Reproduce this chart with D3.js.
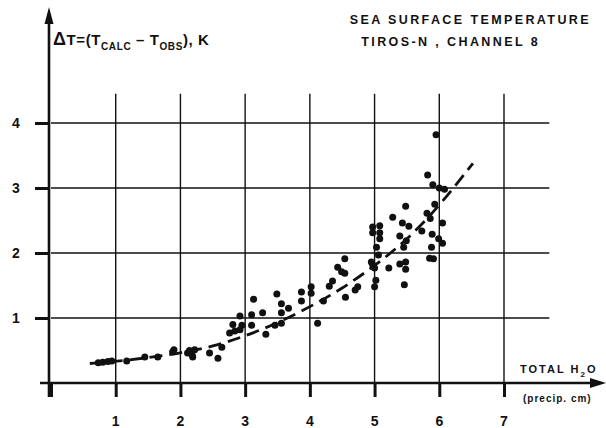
<!DOCTYPE html>
<html>
<head>
<meta charset="utf-8">
<script src="https://cdn.jsdelivr.net/npm/d3@7"></script>
<style>
  html, body { margin: 0; padding: 0; background: #fff; }
  svg { display: block; }
  text { font-family: "Liberation Sans", Arial, sans-serif; font-weight: bold; fill: #111; }
</style>
</head>
<body>
<script>
// ---- data ----
const xTicks = [1, 2, 3, 4, 5, 6, 7];
const yTicks = [1, 2, 3, 4];
const waterVapor = [
  0.73, 0.80, 0.88, 0.94, 1.17, 1.45, 1.65, 1.88, 1.90, 2.11, 2.18, 2.22, 2.19, 2.14, 2.45, 2.58, 2.64,
  2.76, 2.84, 2.92, 2.81, 2.95, 2.92, 3.10, 3.10, 3.13, 3.27, 3.32, 3.49, 3.46, 3.56, 3.56, 3.56, 3.67,
  3.87, 3.87, 4.02, 4.02, 4.12, 4.21, 4.30, 4.35, 4.43, 4.49, 4.54, 4.55, 4.54, 4.70, 4.74,
  4.97, 4.97, 5.08, 5.08, 5.08, 5.03, 5.06, 4.95, 4.97, 5.00, 5.02, 5.00,
  5.22, 5.28, 5.39, 5.48, 5.48, 5.46, 5.43, 5.53, 5.39, 5.49, 5.45, 5.48,
  5.73, 5.81, 5.86, 5.93, 5.89, 5.88, 5.85, 5.91, 6.05, 5.99, 6.05,
  5.95, 5.82, 5.90, 6.00, 6.08
];
const deltaT = [
  0.31, 0.32, 0.33, 0.34, 0.34, 0.40, 0.40, 0.48, 0.51, 0.46, 0.43, 0.51, 0.40, 0.50, 0.46, 0.38, 0.55,
  0.77, 0.80, 0.82, 0.90, 0.89, 1.03, 1.05, 0.89, 1.29, 1.08, 0.75, 1.37, 0.89, 1.22, 1.08, 0.92, 1.15,
  1.40, 1.26, 1.48, 1.38, 0.92, 1.26, 1.49, 1.57, 1.78, 1.71, 1.69, 1.32, 1.91, 1.43, 1.48,
  2.40, 2.31, 2.42, 2.31, 2.22, 2.09, 1.97, 1.86, 1.82, 1.77, 1.58, 1.48,
  1.77, 2.55, 1.83, 1.86, 1.75, 1.51, 2.46, 2.41, 2.26, 2.19, 2.09, 2.72,
  2.34, 2.61, 2.53, 2.75, 2.29, 2.09, 1.92, 1.91, 2.46, 2.22, 2.15,
  3.82, 3.20, 3.05, 3.00, 2.98
];
// hand-drawn dashed curve
const curveX = [0.60, 1.00, 1.50, 2.00, 2.50, 3.00, 3.50, 4.00, 4.50, 5.00, 5.50, 6.00, 6.52];
const curveY = [0.30, 0.33, 0.39, 0.46, 0.56, 0.72, 0.92, 1.17, 1.45, 1.80, 2.20, 2.72, 3.38];

const W = 606, H = 428;
const svg = d3.select("body").append("svg").attr("width", W).attr("height", H);

const x = d3.scaleLinear().domain([0, 7]).range([51, 504]);
const y = d3.scaleLinear().domain([0, 4]).range([383, 123]);

const ink = "#111";

// grid
const gridTop = y(4.45), gridRight = x(7.7);
svg.append("g").selectAll("line").data(xTicks).join("line")
  .attr("x1", d => x(d)).attr("x2", d => x(d))
  .attr("y1", y(0)).attr("y2", gridTop)
  .attr("stroke", ink).attr("stroke-width", 1.4);
svg.append("g").selectAll("line").data(yTicks).join("line")
  .attr("x1", x(0)).attr("x2", gridRight)
  .attr("y1", d => y(d)).attr("y2", d => y(d))
  .attr("stroke", ink).attr("stroke-width", 1.4);

// x axis ticks (below the axis)
const xAxis = d3.axisBottom(x).tickValues([0].concat(xTicks)).tickSize(14).tickFormat("");
const gx = svg.append("g").attr("transform", `translate(0,${y(0)})`).call(xAxis);
gx.select(".domain").remove();
gx.selectAll(".tick line").attr("stroke", ink).attr("stroke-width", 3);
svg.append("g").selectAll("text").data(xTicks).join("text")
  .attr("x", d => x(d)).attr("y", 426).attr("text-anchor", "middle")
  .attr("font-size", 14).text(d => d);

// y axis ticks (left of the axis)
const yAxis = d3.axisLeft(y).tickValues(yTicks).tickSize(15).tickFormat("");
const gy = svg.append("g").attr("transform", `translate(${x(0) - 1},0)`).call(yAxis);
gy.select(".domain").remove();
gy.selectAll(".tick line").attr("stroke", ink).attr("stroke-width", 3);
svg.append("g").selectAll("text").data(yTicks).join("text")
  .attr("x", 16).attr("y", d => y(d) + 5).attr("text-anchor", "middle")
  .attr("font-size", 14).text(d => d);

// main axis lines with arrows
svg.append("line").attr("x1", 40).attr("x2", 598).attr("y1", y(0)).attr("y2", y(0))
  .attr("stroke", ink).attr("stroke-width", 2.6);
svg.append("path").attr("d", `M606,${y(0)} L590,${y(0) - 5} L590,${y(0) + 5} Z`).attr("fill", ink);
svg.append("line").attr("x1", x(0) - 2).attr("x2", x(0) - 2).attr("y1", 397).attr("y2", 16)
  .attr("stroke", ink).attr("stroke-width", 2.6);
svg.append("path").attr("d", `M${x(0) - 2},7 L${x(0) - 6.5},24 L${x(0) + 2.5},24 Z`).attr("fill", ink);

// dashed curve
const line = d3.line().x(d => x(d[0])).y(d => y(d[1])).curve(d3.curveBasis);
svg.append("path").datum(curveX.map((d, i) => [d, curveY[i]]))
  .attr("d", line).attr("fill", "none").attr("stroke", ink)
  .attr("stroke-width", 2.8).attr("stroke-dasharray", "13,7");

// data points
svg.append("g").selectAll("circle").data(waterVapor.map((d, i) => [d, deltaT[i]])).join("circle")
  .attr("cx", d => x(d[0])).attr("cy", d => y(d[1])).attr("r", 3.5).attr("fill", ink);

// titles
svg.append("text").attr("x", 591).attr("y", 24).attr("text-anchor", "end")
  .attr("font-size", 12.5).attr("letter-spacing", 2.4).text("SEA SURFACE TEMPERATURE");
svg.append("text").attr("x", 540).attr("y", 46).attr("text-anchor", "end")
  .attr("font-size", 12.5).attr("letter-spacing", 2.4).text("TIROS-N , CHANNEL 8");

// y axis label
const yl = svg.append("text").attr("x", 53).attr("y", 45).attr("font-size", 15).attr("letter-spacing", 0.6);
yl.append("tspan").attr("font-size", 18).text("Δ");
yl.append("tspan").text("T=(T");
yl.append("tspan").attr("font-size", 10).attr("dy", 5).text("CALC");
yl.append("tspan").attr("dy", -5).text(" – T");
yl.append("tspan").attr("font-size", 10).attr("dy", 5).text("OBS");
yl.append("tspan").attr("dy", -5).text("), K");

// x axis label
const xl = svg.append("text").attr("x", 520).attr("y", 373).attr("font-size", 11).attr("letter-spacing", 2);
xl.append("tspan").text("TOTAL H");
xl.append("tspan").attr("font-size", 8).attr("dy", 4).text("2");
xl.append("tspan").attr("dy", -4).text("O");
svg.append("text").attr("x", 523).attr("y", 402).attr("font-size", 10).attr("letter-spacing", 1).text("(precip. cm)");
</script>
</body>
</html>
